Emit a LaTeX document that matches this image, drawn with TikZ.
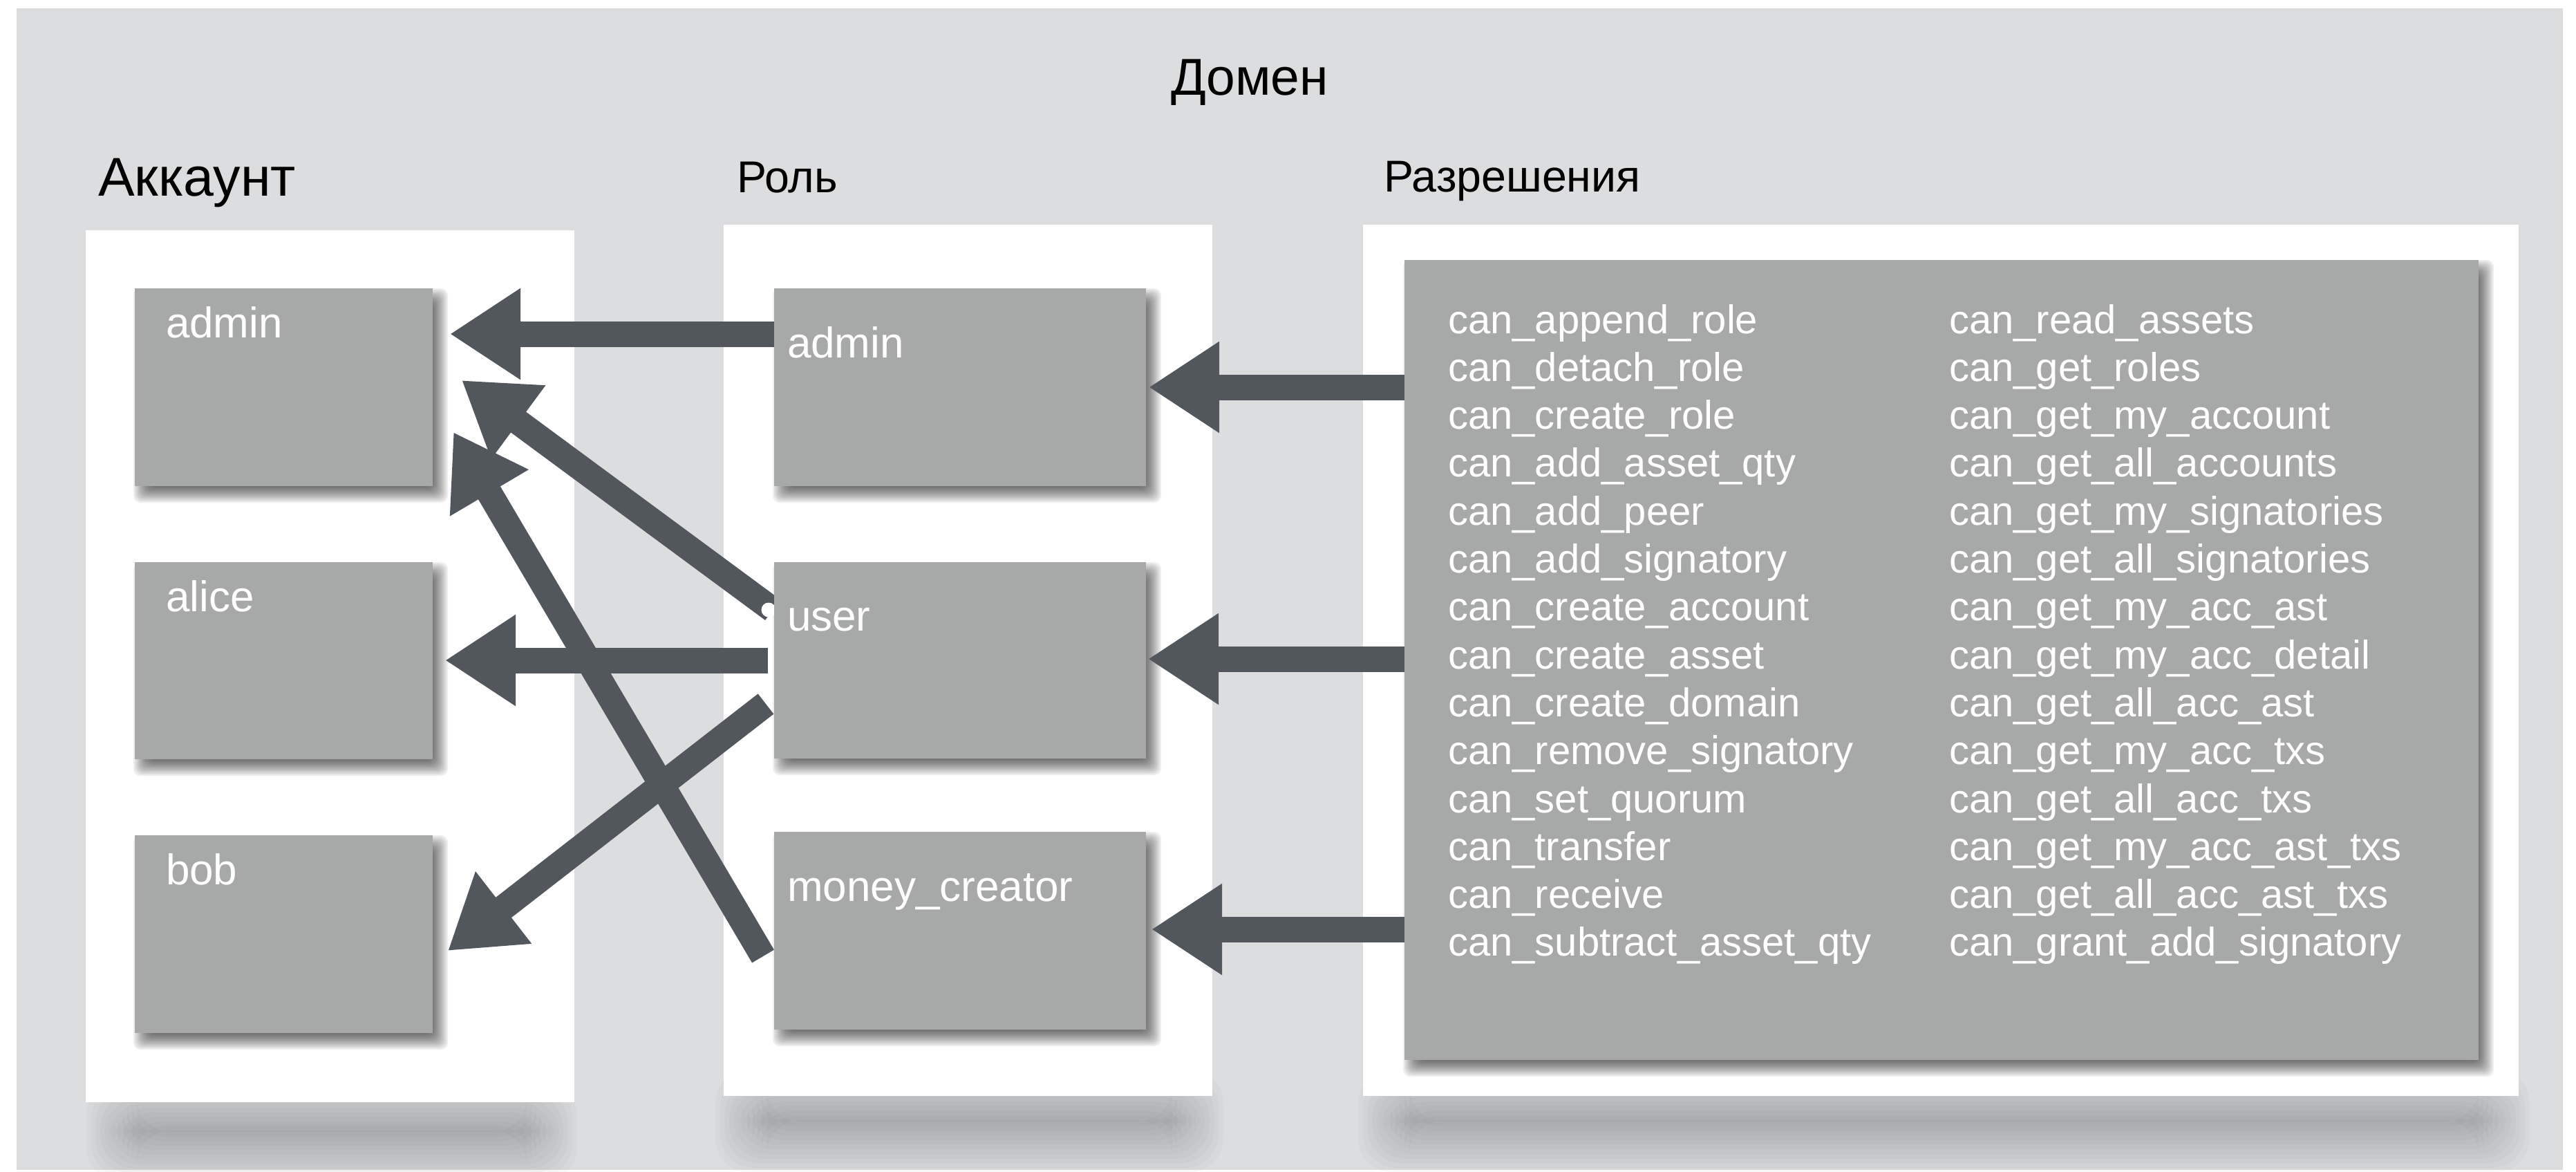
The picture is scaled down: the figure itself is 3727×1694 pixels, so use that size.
\documentclass[tikz,border=0pt]{standalone}
\usepackage{fontspec}
\setmainfont{Liberation Sans}
\usetikzlibrary{arrows.meta,fit,calc}
\definecolor{bggray}{HTML}{DCDDDF}
\definecolor{boxgray}{HTML}{A6A9A8}
\definecolor{arrowgray}{HTML}{52575E}
% x1,y1,x2,y2,outer spread,inner inset,layer opacity,corner radius
\newcommand\softshadow[8]{%
  \foreach \k in {0,...,11}{%
    \pgfmathsetmacro\dd{#5-\k*(#5+#6)/11}%
    \fill[black,opacity=#7,rounded corners=#8] ({#1-(\dd)},{#2-(\dd)}) rectangle ({#3+(\dd)},{#4+(\dd)});
  }}
\begin{document}
\begin{tikzpicture}[x=0.2pt,y=-0.2pt,
  panel/.style={fill=white, inner sep=0pt, outer sep=0pt},
  box/.style={fill=boxgray, inner sep=0pt, outer sep=0pt},
  head/.style={anchor=base west, inner sep=0pt, text=black},
  lbl/.style={anchor=base west, inner sep=0pt, text=white, font=\fontsize{12.4pt}{14pt}\selectfont},
  perm/.style={anchor=base west, inner sep=0pt, text=white, font=\fontsize{11.6pt}{13.9pt}\selectfont},
  arr/.style={draw=arrowgray, line width=7.4pt, -{Triangle[length=20.4pt,width=25pt]}}]
\useasboundingbox (0,0) rectangle (3727,1694);
\fill[white] (0,0) rectangle (3727,1694);
\node[fill=bggray, inner sep=0pt, fit={(24,12)(3708,1692)}] (domain) {};

% panel bottom shadows (soft, blurred)
\softshadow{185}{1622}{775}{1650}{60}{13}{0.019}{10pt}
\softshadow{1095}{1606}{1710}{1636}{60}{14}{0.019}{10pt}
\softshadow{2025}{1606}{3600}{1636}{60}{14}{0.019}{10pt}

% panels
\node[panel, fit={(124,333)(831,1594)}] (pacc) {};
\node[panel, fit={(1047,325)(1754,1585)}] (prole) {};
\node[panel, fit={(1972,325)(3644,1585)}] (pperm) {};

% box shadows
\softshadow{205}{429}{636}{715}{12}{12}{0.065}{2pt}
\softshadow{205}{825}{636}{1110}{12}{12}{0.065}{2pt}
\softshadow{205}{1220}{636}{1506}{12}{12}{0.065}{2pt}
\softshadow{1130}{429}{1668}{715}{12}{12}{0.065}{2pt}
\softshadow{1130}{825}{1668}{1109}{12}{12}{0.065}{2pt}
\softshadow{1130}{1215}{1668}{1501}{12}{12}{0.065}{2pt}
\softshadow{2042}{388}{3596}{1545}{12}{12}{0.065}{2pt}

% role and permission boxes (anchors for the arrows)
\node[box, fit={(1120,417)(1658,703)}, fill=none] (radmin) {};
\node[box, fit={(1120,813)(1658,1097)}, fill=none] (ruser) {};
\node[box, fit={(1120,1203)(1658,1489)}, fill=none] (rmoney) {};
\node[box, fit={(2032,376)(3586,1533)}, fill=none] (pbox) {};

\coordinate (e1) at (1662,560);
\coordinate (e2) at (1661,953);
\coordinate (e3) at (1666,1344);
\coordinate (e4) at (651,483);
\coordinate (e5) at (644,955);
\coordinate (e6) at (668,550);
\coordinate (e7) at (648,1375);
\coordinate (e8) at (656,625);

% arrows
\draw[arr] (pbox.west |- e1) -- (e1);
\draw[arr] (pbox.west |- e2) -- (e2);
\draw[arr] (pbox.west |- e3) -- (e3);
\draw[arr] (radmin.west |- e4) -- (e4);
\draw[arr] ($(ruser.west |- e5)+(-9,0)$) -- (e5);
\draw[arr] ($(ruser.west)+(-2,-73)$) -- (e6);
\draw[arr] ($(ruser.west)+(-12,63)$) -- (e7);
\draw[arr] ($(rmoney.west)+(-16,37)$) -- (e8);

\node[circle, fill=white, minimum size=4.2pt, inner sep=0pt] (dot) at (1112,882) {};

% boxes on top
\node[box, fit={(195,417)(626,703)}] (aadmin) {};
\node[box, fit={(195,813)(626,1098)}] (aalice) {};
\node[box, fit={(195,1208)(626,1494)}] (abob) {};
\fill[boxgray] (radmin.north west) rectangle (radmin.south east);
\fill[boxgray] (ruser.north west) rectangle (ruser.south east);
\fill[boxgray] (rmoney.north west) rectangle (rmoney.south east);
\fill[boxgray] (pbox.north west) rectangle (pbox.south east);

% headings
\node[head, font=\fontsize{15pt}{18pt}\selectfont] (tdomain) at (1693,137) {Домен};
\node[head, font=\fontsize{15.8pt}{18pt}\selectfont] (tacc) at (141,283) {Аккаунт};
\node[head, font=\fontsize{12.9pt}{15pt}\selectfont] (trole) at (1065,278) {Роль};
\node[head, font=\fontsize{12.9pt}{15pt}\selectfont] (tperm) at (2001,277) {Разрешения};

% labels
\node[lbl] (laadmin) at (239,488) {admin};
\node[lbl] (laalice) at (239,884) {alice};
\node[lbl] (labob) at (239,1279) {bob};
\node[lbl] (lradmin) at (1138,517) {admin};
\node[lbl] (lruser) at (1138,912) {user};
\node[lbl] (lrmoney) at (1138,1303) {money\_creator};

% permissions
\foreach \t [count=\i from 0] in {can\_append\_role, can\_detach\_role, can\_create\_role, can\_add\_asset\_qty, can\_add\_peer, can\_add\_signatory, can\_create\_account, can\_create\_asset, can\_create\_domain, can\_remove\_signatory, can\_set\_quorum, can\_transfer, can\_receive, can\_subtract\_asset\_qty}
  \node[perm] (pa\i) at (2094,{482+69.3*\i}) {\t};
\foreach \t [count=\i from 0] in {can\_read\_assets, can\_get\_roles, can\_get\_my\_account, can\_get\_all\_accounts, can\_get\_my\_signatories, can\_get\_all\_signatories, can\_get\_my\_acc\_ast, can\_get\_my\_acc\_detail, can\_get\_all\_acc\_ast, can\_get\_my\_acc\_txs, can\_get\_all\_acc\_txs, can\_get\_my\_acc\_ast\_txs, can\_get\_all\_acc\_ast\_txs, can\_grant\_add\_signatory}
  \node[perm] (pb\i) at (2819,{482+69.3*\i}) {\t};
\end{tikzpicture}
\end{document}
